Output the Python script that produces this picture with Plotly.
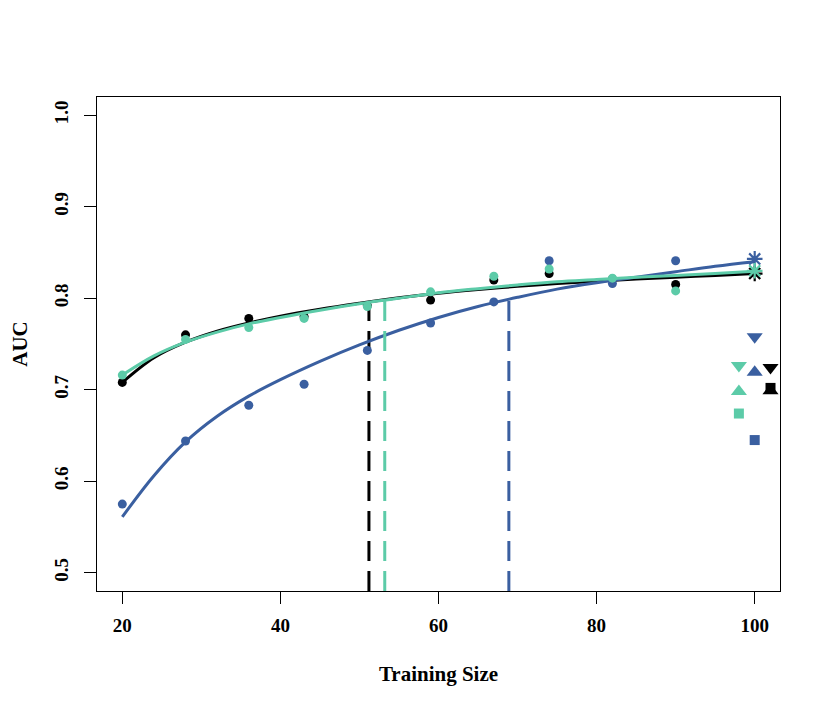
import plotly.graph_objects as go

# puntos observados
train_size = [20, 28, 36, 43, 51, 59, 67, 74, 82, 90]
auc_black = [0.708, 0.760, 0.778, 0.780, 0.792, 0.798, 0.820, 0.827, 0.821, 0.815]
auc_blue = [0.575, 0.644, 0.683, 0.706, 0.743, 0.773, 0.796, 0.841, 0.816, 0.841]
auc_teal = [0.716, 0.755, 0.768, 0.778, 0.791, 0.807, 0.824, 0.832, 0.822, 0.808]

# curvas ajustadas
curve_x = [20, 24, 28, 32, 36, 40, 45, 50, 55, 60, 65, 70, 75, 80, 85, 90, 95, 100]
curve_black = [0.708, 0.735, 0.752, 0.764, 0.773, 0.7805, 0.788, 0.7945, 0.8005, 0.8055,
               0.8095, 0.813, 0.816, 0.8185, 0.821, 0.823, 0.825, 0.827]
curve_blue = [0.561, 0.606, 0.643, 0.671, 0.693, 0.711, 0.731, 0.749, 0.765, 0.779,
              0.791, 0.801, 0.810, 0.817, 0.823, 0.829, 0.835, 0.840]
curve_teal = [0.716, 0.737, 0.752, 0.763, 0.772, 0.779, 0.787, 0.794, 0.800, 0.806,
              0.8105, 0.8145, 0.818, 0.8205, 0.823, 0.825, 0.827, 0.8295]

# valor en 100
end_x = 100
end_black, end_blue, end_teal = 0.827, 0.843, 0.830

# tamano donde la curva llega a 0.8
target_auc = 0.8
cut_black, cut_blue, cut_teal = 51.2, 68.9, 53.2

# resumen a la derecha: triangulo abajo, triangulo arriba, cuadrado
sum_x_teal, sum_x_blue, sum_x_black = 98, 100, 102
sum_teal = [0.7265, 0.698, 0.674]
sum_blue = [0.758, 0.719, 0.645]
sum_black = [0.7243, 0.699, 0.702]

x_range = [16.8, 103.2]
y_range = [0.48, 1.02]

BLACK = "#000000"
BLUE = "#3A5FA0"
TEAL = "#5CCBA8"

fig = go.Figure()

for color, pts, curve, end, cut in [
    (BLACK, auc_black, curve_black, end_black, cut_black),
    (BLUE, auc_blue, curve_blue, end_blue, cut_blue),
    (TEAL, auc_teal, curve_teal, end_teal, cut_teal),
]:
    fig.add_trace(go.Scatter(x=train_size, y=pts, mode="markers",
                             marker=dict(color=color, size=9, opacity=1, line_width=0)))
    fig.add_trace(go.Scatter(x=curve_x, y=curve, mode="lines",
                             line=dict(color=color, width=3, shape="spline", smoothing=1)))
    fig.add_trace(go.Scatter(x=[end_x], y=[end], mode="markers",
                             marker=dict(symbol="asterisk-open", size=13, color=color, opacity=1,
                                         line=dict(color=color, width=2.2))))
    fig.add_trace(go.Scatter(x=[cut, cut], y=[y_range[0], target_auc], mode="lines",
                             line=dict(color=color, width=3, dash="20px,10px")))

symbols = ["triangle-down", "triangle-up", "square"]
sizes = [14, 14, 10]
for color, xpos, vals in [(TEAL, sum_x_teal, sum_teal), (BLUE, sum_x_blue, sum_blue),
                          (BLACK, sum_x_black, sum_black)]:
    fig.add_trace(go.Scatter(x=[xpos] * len(vals), y=vals, mode="markers",
                             marker=dict(color=color, symbol=symbols, size=sizes,
                                         opacity=1, line_width=0)))

font = dict(family="Liberation Serif", size=19, color="black")
fig.update_layout(
    width=830, height=712,
    # el body del html tiene 8px de margen
    margin=dict(l=89, r=58, t=89, b=129),
    plot_bgcolor="white", paper_bgcolor="white",
    showlegend=False,
    font=font,
)
fig.update_xaxes(
    range=x_range, tickvals=[20, 40, 60, 80, 100],
    ticktext=["<b>20</b>", "<b>40</b>", "<b>60</b>", "<b>80</b>", "<b>100</b>"],
    showgrid=False, zeroline=False, showline=True, mirror=True, linecolor="black", linewidth=1,
    ticks="outside", ticklen=12, tickwidth=1, tickcolor="black", ticklabelstandoff=5,
    automargin=False,
    title=dict(text="<b>Training Size</b>", font=dict(size=21), standoff=31),
)
fig.update_yaxes(
    range=y_range, tickvals=[0.5, 0.6, 0.7, 0.8, 0.9, 1.0],
    ticktext=["<b>0.5</b>", "<b>0.6</b>", "<b>0.7</b>", "<b>0.8</b>", "<b>0.9</b>", "<b>1.0</b>"],
    tickangle=-90,
    showgrid=False, zeroline=False, showline=True, mirror=True, linecolor="black", linewidth=1,
    ticks="outside", ticklen=12, tickwidth=1, tickcolor="black", ticklabelstandoff=8,
    automargin=False,
    title=dict(text="<b>AUC</b>", font=dict(size=21), standoff=26),
)

fig.write_html("out.html")
